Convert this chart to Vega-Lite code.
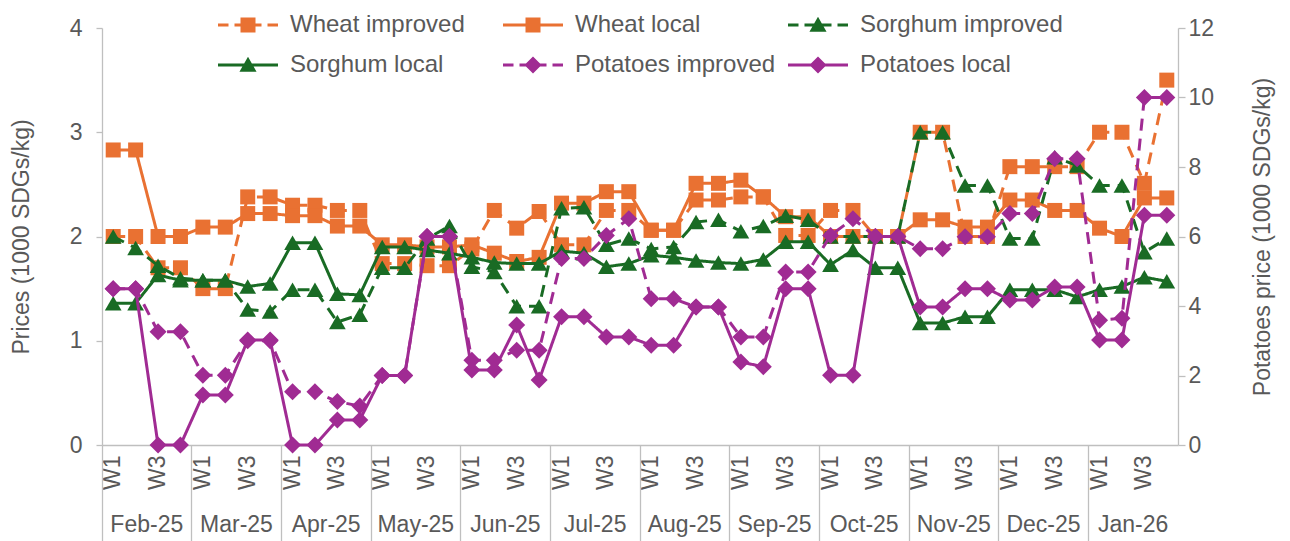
{
  "$schema": "https://vega.github.io/schema/vega-lite/v6.json",
  "width": 1076,
  "height": 417,
  "autosize": {"type": "none"},
  "padding": {"left": 102, "top": 28, "right": 112, "bottom": 96},
  "background": "white",
  "config": {
    "view": {"stroke": null},
    "font": "Liberation Sans",
    "axis": {
      "labelFont": "Liberation Sans", "titleFont": "Liberation Sans",
      "labelFontSize": 23, "titleFontSize": 23,
      "labelColor": "#595959", "titleColor": "#595959", "titleFontWeight": "normal",
      "domainColor": "#BFBFBF", "tickColor": "#BFBFBF", "grid": false,
      "domainWidth": 1.3, "tickWidth": 1.3
    },
    "legend": {
      "labelFont": "Liberation Sans", "labelFontSize": 24, "labelColor": "#595959",
      "symbolSize": 900, "labelOffset": 27, "columnPadding": 10, "rowPadding": 13,
      "padding": 0, "gridAlign": "all", "labelLimit": 400, "symbolStrokeWidth": 0
    }
  },
  "datasets": {
    "d": [
      {"k": "2025-02|Feb-25|W1", "Wheat improved": 2.0, "Wheat local": 2.83, "Sorghum improved": 2.0, "Sorghum local": 1.36, "Potatoes improved": 4.5, "Potatoes local": 4.5},
      {"k": "2025-02|Feb-25|W2", "Wheat improved": 2.0, "Wheat local": 2.83, "Sorghum improved": 1.89, "Sorghum local": 1.36, "Potatoes improved": 4.5, "Potatoes local": 4.5},
      {"k": "2025-02|Feb-25|W3", "Wheat improved": 1.7, "Wheat local": 2.0, "Sorghum improved": 1.72, "Sorghum local": 1.63, "Potatoes improved": 3.26, "Potatoes local": 0},
      {"k": "2025-02|Feb-25|W4", "Wheat improved": 1.7, "Wheat local": 2.0, "Sorghum improved": 1.6, "Sorghum local": 1.58, "Potatoes improved": 3.26, "Potatoes local": 0},
      {"k": "2025-03|Mar-25|W1", "Wheat improved": 1.5, "Wheat local": 2.09, "Sorghum improved": 1.58, "Sorghum local": 1.58, "Potatoes improved": 2.01, "Potatoes local": 1.44},
      {"k": "2025-03|Mar-25|W2", "Wheat improved": 1.5, "Wheat local": 2.09, "Sorghum improved": 1.58, "Sorghum local": 1.58, "Potatoes improved": 2.01, "Potatoes local": 1.44},
      {"k": "2025-03|Mar-25|W3", "Wheat improved": 2.38, "Wheat local": 2.22, "Sorghum improved": 1.3, "Sorghum local": 1.52, "Potatoes improved": 3.0, "Potatoes local": 3.02},
      {"k": "2025-03|Mar-25|W4", "Wheat improved": 2.38, "Wheat local": 2.22, "Sorghum improved": 1.28, "Sorghum local": 1.55, "Potatoes improved": 3.0, "Potatoes local": 3.02},
      {"k": "2025-04|Apr-25|W1", "Wheat improved": 2.3, "Wheat local": 2.2, "Sorghum improved": 1.49, "Sorghum local": 1.94, "Potatoes improved": 1.53, "Potatoes local": 0},
      {"k": "2025-04|Apr-25|W2", "Wheat improved": 2.3, "Wheat local": 2.2, "Sorghum improved": 1.49, "Sorghum local": 1.94, "Potatoes improved": 1.53, "Potatoes local": 0},
      {"k": "2025-04|Apr-25|W3", "Wheat improved": 2.25, "Wheat local": 2.1, "Sorghum improved": 1.18, "Sorghum local": 1.45, "Potatoes improved": 1.25, "Potatoes local": 0.72},
      {"k": "2025-04|Apr-25|W4", "Wheat improved": 2.25, "Wheat local": 2.1, "Sorghum improved": 1.25, "Sorghum local": 1.44, "Potatoes improved": 1.12, "Potatoes local": 0.72},
      {"k": "2025-05|May-25|W1", "Wheat improved": 1.74, "Wheat local": 1.92, "Sorghum improved": 1.7, "Sorghum local": 1.9, "Potatoes improved": 2.0, "Potatoes local": 2.0},
      {"k": "2025-05|May-25|W2", "Wheat improved": 1.74, "Wheat local": 1.92, "Sorghum improved": 1.7, "Sorghum local": 1.9, "Potatoes improved": 2.0, "Potatoes local": 2.0},
      {"k": "2025-05|May-25|W3", "Wheat improved": 1.72, "Wheat local": 1.9, "Sorghum improved": 1.98, "Sorghum local": 1.87, "Potatoes improved": 6.0, "Potatoes local": 6.0},
      {"k": "2025-05|May-25|W4", "Wheat improved": 1.72, "Wheat local": 1.9, "Sorghum improved": 2.1, "Sorghum local": 1.84, "Potatoes improved": 6.0, "Potatoes local": 6.0},
      {"k": "2025-06|Jun-25|W1", "Wheat improved": 1.88, "Wheat local": 1.92, "Sorghum improved": 1.71, "Sorghum local": 1.8, "Potatoes improved": 2.44, "Potatoes local": 2.16},
      {"k": "2025-06|Jun-25|W2", "Wheat improved": 2.25, "Wheat local": 1.84, "Sorghum improved": 1.66, "Sorghum local": 1.75, "Potatoes improved": 2.44, "Potatoes local": 2.16},
      {"k": "2025-06|Jun-25|W3", "Wheat improved": 2.08, "Wheat local": 1.76, "Sorghum improved": 1.33, "Sorghum local": 1.74, "Potatoes improved": 2.73, "Potatoes local": 3.45},
      {"k": "2025-06|Jun-25|W4", "Wheat improved": 2.24, "Wheat local": 1.8, "Sorghum improved": 1.33, "Sorghum local": 1.74, "Potatoes improved": 2.73, "Potatoes local": 1.87},
      {"k": "2025-07|Jul-25|W1", "Wheat improved": 1.92, "Wheat local": 2.32, "Sorghum improved": 2.27, "Sorghum local": 1.86, "Potatoes improved": 5.37, "Potatoes local": 3.69},
      {"k": "2025-07|Jul-25|W2", "Wheat improved": 1.92, "Wheat local": 2.32, "Sorghum improved": 2.28, "Sorghum local": 1.84, "Potatoes improved": 5.37, "Potatoes local": 3.69},
      {"k": "2025-07|Jul-25|W3", "Wheat improved": 2.25, "Wheat local": 2.43, "Sorghum improved": 1.92, "Sorghum local": 1.71, "Potatoes improved": 6.03, "Potatoes local": 3.11},
      {"k": "2025-07|Jul-25|W4", "Wheat improved": 2.25, "Wheat local": 2.43, "Sorghum improved": 1.98, "Sorghum local": 1.74, "Potatoes improved": 6.51, "Potatoes local": 3.11},
      {"k": "2025-08|Aug-25|W1", "Wheat improved": 2.06, "Wheat local": 2.06, "Sorghum improved": 1.88, "Sorghum local": 1.82, "Potatoes improved": 4.21, "Potatoes local": 2.87},
      {"k": "2025-08|Aug-25|W2", "Wheat improved": 2.06, "Wheat local": 2.06, "Sorghum improved": 1.9, "Sorghum local": 1.8, "Potatoes improved": 4.21, "Potatoes local": 2.87},
      {"k": "2025-08|Aug-25|W3", "Wheat improved": 2.35, "Wheat local": 2.51, "Sorghum improved": 2.14, "Sorghum local": 1.77, "Potatoes improved": 3.97, "Potatoes local": 3.97},
      {"k": "2025-08|Aug-25|W4", "Wheat improved": 2.35, "Wheat local": 2.51, "Sorghum improved": 2.16, "Sorghum local": 1.75, "Potatoes improved": 3.97, "Potatoes local": 3.97},
      {"k": "2025-09|Sep-25|W1", "Wheat improved": 2.38, "Wheat local": 2.54, "Sorghum improved": 2.05, "Sorghum local": 1.74, "Potatoes improved": 3.11, "Potatoes local": 2.39},
      {"k": "2025-09|Sep-25|W2", "Wheat improved": 2.38, "Wheat local": 2.38, "Sorghum improved": 2.1, "Sorghum local": 1.78, "Potatoes improved": 3.11, "Potatoes local": 2.25},
      {"k": "2025-09|Sep-25|W3", "Wheat improved": 2.01, "Wheat local": 2.19, "Sorghum improved": 2.2, "Sorghum local": 1.95, "Potatoes improved": 4.98, "Potatoes local": 4.5},
      {"k": "2025-09|Sep-25|W4", "Wheat improved": 2.01, "Wheat local": 2.19, "Sorghum improved": 2.16, "Sorghum local": 1.95, "Potatoes improved": 4.98, "Potatoes local": 4.5},
      {"k": "2025-10|Oct-25|W1", "Wheat improved": 2.25, "Wheat local": 2.0, "Sorghum improved": 2.0, "Sorghum local": 1.73, "Potatoes improved": 6.03, "Potatoes local": 2.01},
      {"k": "2025-10|Oct-25|W2", "Wheat improved": 2.25, "Wheat local": 2.0, "Sorghum improved": 2.0, "Sorghum local": 1.87, "Potatoes improved": 6.51, "Potatoes local": 2.01},
      {"k": "2025-10|Oct-25|W3", "Wheat improved": 2.0, "Wheat local": 2.0, "Sorghum improved": 2.0, "Sorghum local": 1.7, "Potatoes improved": 6.0, "Potatoes local": 6.0},
      {"k": "2025-10|Oct-25|W4", "Wheat improved": 2.0, "Wheat local": 2.0, "Sorghum improved": 2.0, "Sorghum local": 1.7, "Potatoes improved": 6.0, "Potatoes local": 6.0},
      {"k": "2025-11|Nov-25|W1", "Wheat improved": 3.0, "Wheat local": 2.16, "Sorghum improved": 3.0, "Sorghum local": 1.17, "Potatoes improved": 5.65, "Potatoes local": 3.97},
      {"k": "2025-11|Nov-25|W2", "Wheat improved": 3.0, "Wheat local": 2.16, "Sorghum improved": 3.0, "Sorghum local": 1.17, "Potatoes improved": 5.65, "Potatoes local": 3.97},
      {"k": "2025-11|Nov-25|W3", "Wheat improved": 2.0, "Wheat local": 2.09, "Sorghum improved": 2.49, "Sorghum local": 1.23, "Potatoes improved": 5.99, "Potatoes local": 4.5},
      {"k": "2025-11|Nov-25|W4", "Wheat improved": 2.0, "Wheat local": 2.09, "Sorghum improved": 2.49, "Sorghum local": 1.23, "Potatoes improved": 5.99, "Potatoes local": 4.5},
      {"k": "2025-12|Dec-25|W1", "Wheat improved": 2.67, "Wheat local": 2.35, "Sorghum improved": 1.98, "Sorghum local": 1.49, "Potatoes improved": 6.66, "Potatoes local": 4.17},
      {"k": "2025-12|Dec-25|W2", "Wheat improved": 2.67, "Wheat local": 2.35, "Sorghum improved": 1.98, "Sorghum local": 1.49, "Potatoes improved": 6.66, "Potatoes local": 4.17},
      {"k": "2025-12|Dec-25|W3", "Wheat improved": 2.67, "Wheat local": 2.25, "Sorghum improved": 2.76, "Sorghum local": 1.49, "Potatoes improved": 8.24, "Potatoes local": 4.55},
      {"k": "2025-12|Dec-25|W4", "Wheat improved": 2.67, "Wheat local": 2.25, "Sorghum improved": 2.68, "Sorghum local": 1.42, "Potatoes improved": 8.24, "Potatoes local": 4.55},
      {"k": "2026-01|Jan-26|W1", "Wheat improved": 3.0, "Wheat local": 2.08, "Sorghum improved": 2.49, "Sorghum local": 1.49, "Potatoes improved": 3.59, "Potatoes local": 3.02},
      {"k": "2026-01|Jan-26|W2", "Wheat improved": 3.0, "Wheat local": 2.0, "Sorghum improved": 2.49, "Sorghum local": 1.52, "Potatoes improved": 3.65, "Potatoes local": 3.02},
      {"k": "2026-01|Jan-26|W3", "Wheat improved": 2.51, "Wheat local": 2.37, "Sorghum improved": 1.85, "Sorghum local": 1.61, "Potatoes improved": 10.0, "Potatoes local": 6.61},
      {"k": "2026-01|Jan-26|W4", "Wheat improved": 3.5, "Wheat local": 2.37, "Sorghum improved": 1.98, "Sorghum local": 1.57, "Potatoes improved": 10.0, "Potatoes local": 6.61}
    ]
  },
  "layer": [
    {
      "data": {"name": "d"},
      "transform": [
        {"fold": ["Wheat improved", "Wheat local", "Sorghum improved", "Sorghum local", "Potatoes improved", "Potatoes local"], "as": ["s", "v"]}
      ],
      "encoding": {
        "x": {
          "field": "k", "type": "nominal",
          "scale": {"type": "band", "paddingInner": 0, "paddingOuter": 0},
          "axis": {
            "orient": "bottom", "title": null, "ticks": false, "tickSize": 0, "domain": true,
            "bandPosition": 0.5, "labelAngle": 270, "labelAlign": "right", "labelBaseline": "middle",
            "labelPadding": 10, "labelOverlap": false,
            "labelExpr": "(split(datum.value,'|')[2] == 'W1' || split(datum.value,'|')[2] == 'W3') ? split(datum.value,'|')[2] : ''"
          }
        },
        "y": {
          "field": "v", "type": "quantitative",
          "scale": {"domain": [0, 4], "nice": false},
          "axis": {"orient": "left", "values": [0, 1, 2, 3, 4], "format": "d", "title": "Prices (1000 SDGs/kg)", "tickSize": 6, "labelPadding": 14, "titlePadding": 36}
        },
        "color": {
          "field": "s", "type": "nominal", "legend": null,
          "scale": {"domain": ["Wheat improved", "Wheat local", "Sorghum improved", "Sorghum local", "Potatoes improved", "Potatoes local"], "range": ["#E97132", "#E97132", "#196B24", "#196B24", "#A02B93", "#A02B93"]}
        },
        "strokeDash": {
          "field": "s", "type": "nominal", "legend": null,
          "scale": {"domain": ["Wheat improved", "Wheat local", "Sorghum improved", "Sorghum local", "Potatoes improved", "Potatoes local"], "range": [[12, 8], [1, 0], [12, 8], [1, 0], [12, 8], [1, 0]]}
        }
      },
      "layer": [
        {
          "transform": [{"filter": "false"}],
          "mark": {"type": "point", "filled": true, "opacity": 1, "size": 900},
          "encoding": {
            "strokeDash": {"value": [1, 0]},
            "color": {
              "field": "s", "type": "nominal",
              "scale": {"domain": ["Wheat improved", "Wheat local", "Sorghum improved", "Sorghum local", "Potatoes improved", "Potatoes local"], "range": ["#E97132", "#E97132", "#196B24", "#196B24", "#A02B93", "#A02B93"]},
              "legend": {"title": null, "orient": "none", "legendX": 131, "legendY": -18, "columns": 3, "direction": "horizontal"}
            },
            "shape": {
              "field": "s", "type": "nominal",
              "scale": {
                "domain": ["Wheat improved", "Wheat local", "Sorghum improved", "Sorghum local", "Potatoes improved", "Potatoes local"],
                "range": [
                  "M-2,-0.1H-1.3V0.1H-2Z M-0.9,-0.1H0.9V0.1H-0.9Z M1.3,-0.1H2V0.1H1.3Z M-0.5,-0.5H0.5V0.5H-0.5Z",
                  "M-2,-0.1H2V0.1H-2Z M-0.5,-0.5H0.5V0.5H-0.5Z",
                  "M-2,-0.1H-1.3V0.1H-2Z M-0.9,-0.1H0.9V0.1H-0.9Z M1.3,-0.1H2V0.1H1.3Z M0,-0.55L0.57,0.45L-0.57,0.45Z",
                  "M-2,-0.1H2V0.1H-2Z M0,-0.55L0.57,0.45L-0.57,0.45Z",
                  "M-2,-0.1H-1.3V0.1H-2Z M-0.9,-0.1H0.9V0.1H-0.9Z M1.3,-0.1H2V0.1H1.3Z M0,-0.57L0.57,0L0,0.57L-0.57,0Z",
                  "M-2,-0.1H2V0.1H-2Z M0,-0.57L0.57,0L0,0.57L-0.57,0Z"
                ]
              },
              "legend": {"title": null, "orient": "none", "legendX": 131, "legendY": -18, "columns": 3, "direction": "horizontal"}
            }
          }
        },
        {
          "transform": [{"filter": "datum.s == 'Wheat improved' || datum.s == 'Wheat local'"}],
          "mark": {"type": "line", "strokeWidth": 3}
        },
        {
          "transform": [{"filter": "datum.s == 'Wheat improved' || datum.s == 'Wheat local'"}],
          "mark": {"type": "point", "shape": "square", "filled": true, "opacity": 1, "size": 225}
        },
        {
          "transform": [{"filter": "datum.s == 'Sorghum improved' || datum.s == 'Sorghum local'"}],
          "mark": {"type": "line", "strokeWidth": 3}
        },
        {
          "transform": [{"filter": "datum.s == 'Sorghum improved' || datum.s == 'Sorghum local'"}],
          "mark": {"type": "point", "shape": "triangle-up", "filled": true, "opacity": 1, "size": 280}
        }
      ]
    },
    {
      "data": {"name": "d"},
      "transform": [
        {"fold": ["Potatoes improved", "Potatoes local"], "as": ["s", "v"]}
      ],
      "encoding": {
        "x": {
          "field": "k", "type": "nominal",
          "scale": {"type": "band", "paddingInner": 0, "paddingOuter": 0},
          "axis": {
            "orient": "bottom", "title": null, "domain": false, "ticks": true, "tickSize": 96,
            "bandPosition": 0,
            "values": ["2025-02|Feb-25|W1", "2025-03|Mar-25|W1", "2025-04|Apr-25|W1", "2025-05|May-25|W1", "2025-06|Jun-25|W1", "2025-07|Jul-25|W1", "2025-08|Aug-25|W1", "2025-09|Sep-25|W1", "2025-10|Oct-25|W1", "2025-11|Nov-25|W1", "2025-12|Dec-25|W1", "2026-01|Jan-26|W1"],
            "labelExpr": "split(datum.value,'|')[1]",
            "labelAngle": 0, "labelAlign": "center", "labelBaseline": "top",
            "labelOffset": 33.6, "labelPadding": -28, "labelOverlap": false, "labelBound": false
          }
        },
        "y": {
          "field": "v", "type": "quantitative",
          "scale": {"domain": [0, 12], "nice": false},
          "axis": {"orient": "right", "values": [0, 2, 4, 6, 8, 10, 12], "format": "d", "title": "Potatoes price (1000 SDGs/kg)", "tickSize": 7, "labelPadding": 3, "titlePadding": 38, "titleAngle": 270, "titleBaseline": "top"}
        },
        "color": {
          "field": "s", "type": "nominal", "legend": null,
          "scale": {"domain": ["Wheat improved", "Wheat local", "Sorghum improved", "Sorghum local", "Potatoes improved", "Potatoes local"], "range": ["#E97132", "#E97132", "#196B24", "#196B24", "#A02B93", "#A02B93"]}
        },
        "strokeDash": {
          "field": "s", "type": "nominal", "legend": null,
          "scale": {"domain": ["Wheat improved", "Wheat local", "Sorghum improved", "Sorghum local", "Potatoes improved", "Potatoes local"], "range": [[12, 8], [1, 0], [12, 8], [1, 0], [12, 8], [1, 0]]}
        }
      },
      "layer": [
        {"mark": {"type": "line", "strokeWidth": 3}},
        {"mark": {"type": "point", "shape": "diamond", "filled": true, "opacity": 1, "size": 289}}
      ]
    }
  ],
  "resolve": {"scale": {"y": "independent", "x": "independent"}, "axis": {"x": "independent"}}
}
